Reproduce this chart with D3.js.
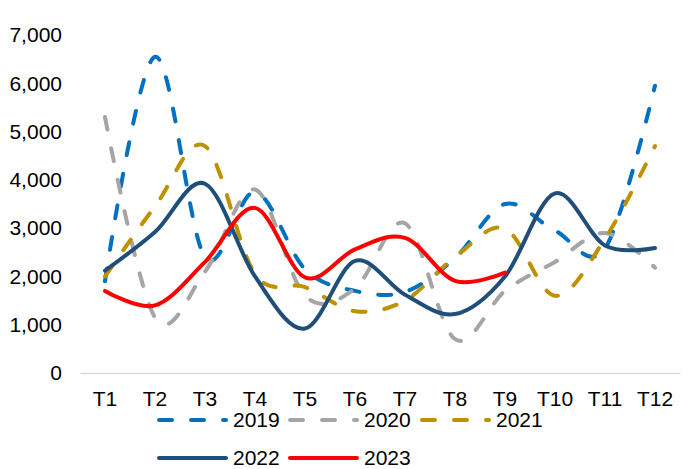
<!DOCTYPE html>
<html>
<head>
<meta charset="utf-8">
<script src="https://cdn.jsdelivr.net/npm/d3@7"></script>
<style>
  html, body { margin: 0; padding: 0; background: #fff; }
  svg { display: block; font-family: "Liberation Sans", Arial, sans-serif; }
</style>
</head>
<body>
<svg id="chart" width="692" height="469"></svg>
<script>
// Months T1..T12 and yearly series
const categories = ["T1","T2","T3","T4","T5","T6","T7","T8","T9","T10","T11","T12"];
const yTicks = [0, 1000, 2000, 3000, 4000, 5000, 6000, 7000];

const s2019 = [1900, 6550, 2400, 3750, 2150, 1700, 1680, 2380, 3500, 2950, 2580, 5950];
const s2020 = [5300, 1150, 2100, 3800, 1600, 1750, 3100, 700, 1700, 2300, 2900, 2180];
const s2021 = [2000, 3450, 4700, 2050, 1780, 1280, 1500, 2400, 2990, 1600, 2780, 4700];
const s2022 = [2120, 2920, 3920, 2000, 920, 2320, 1620, 1220, 2000, 3720, 2640, 2590];
const s2023 = [1700, 1400, 2300, 3420, 1980, 2560, 2800, 1910, 2080];

const series = [
  { name: "2019", values: s2019, color: "#0070C0", dash: "13 19" },
  { name: "2020", values: s2020, color: "#A5A5A5", dash: "13 19" },
  { name: "2021", values: s2021, color: "#BF9000", dash: "13 19" },
  { name: "2022", values: s2022, color: "#1F4E79", dash: null },
  { name: "2023", values: s2023, color: "#FF0000", dash: null }
];

const svg = d3.select("#chart");
const margin = { left: 80, right: 12, top: 35, bottom: 96 };
const W = 692, H = 469;

const x = d3.scaleBand().domain(categories).range([margin.left, W - margin.right]).padding(0);
const y = d3.scaleLinear().domain([0, 7000]).range([H - margin.bottom, margin.top]);

const fontSize = 21;

// Y axis labels (no axis line, no ticks)
const yAxis = d3.axisLeft(y).tickValues(yTicks).tickFormat(d3.format(",")).tickSize(0).tickPadding(0);
const yg = svg.append("g").attr("transform", `translate(${margin.left - 18},0)`).call(yAxis);
yg.select(".domain").remove();
yg.selectAll("text").attr("font-size", fontSize).attr("fill", "#000")
  .attr("font-family", "Liberation Sans, Arial, sans-serif");

// X axis: light baseline plus category labels
const xAxis = d3.axisBottom(x).tickSize(0).tickPadding(0);
const xg = svg.append("g").attr("transform", `translate(0,${y(0)})`).call(xAxis);
xg.select(".domain").attr("stroke", "#D9D9D9").attr("stroke-width", 1.5);
xg.selectAll("text").attr("font-size", fontSize).attr("fill", "#000")
  .attr("font-family", "Liberation Sans, Arial, sans-serif")
  .attr("dy", "0").attr("y", 33);

// Smoothed series lines
const line = d3.line()
  .x((d, i) => x(categories[i]) + x.bandwidth() / 2)
  .y(d => y(d))
  .curve(d3.curveCardinal.tension(0));

const lines = svg.append("g");
series.forEach(s => {
  lines.append("path")
    .datum(s.values)
    .attr("d", line)
    .attr("fill", "none")
    .attr("stroke", s.color)
    .attr("stroke-width", 4)
    .attr("stroke-linecap", "round")
    .attr("stroke-linejoin", "round")
    .attr("stroke-dasharray", s.dash);
});

// Legend in two rows
const legendPos = [
  { x: 157, y: 420 }, { x: 288, y: 420 }, { x: 420, y: 420 },
  { x: 157, y: 458 }, { x: 288, y: 458 }
];
const legend = svg.append("g");
series.forEach((s, i) => {
  const p = legendPos[i];
  const g = legend.append("g").attr("transform", `translate(${p.x},${p.y})`);
  g.append("line")
    .attr("x1", 2).attr("x2", 69).attr("y1", 0).attr("y2", 0)
    .attr("stroke", s.color).attr("stroke-width", 4)
    .attr("stroke-linecap", "round")
    .attr("stroke-dasharray", s.dash);
  g.append("text")
    .attr("x", 76).attr("y", 0).attr("dy", "0.35em")
    .attr("font-size", fontSize).attr("fill", "#000")
    .text(s.name);
});
</script>
</body>
</html>
